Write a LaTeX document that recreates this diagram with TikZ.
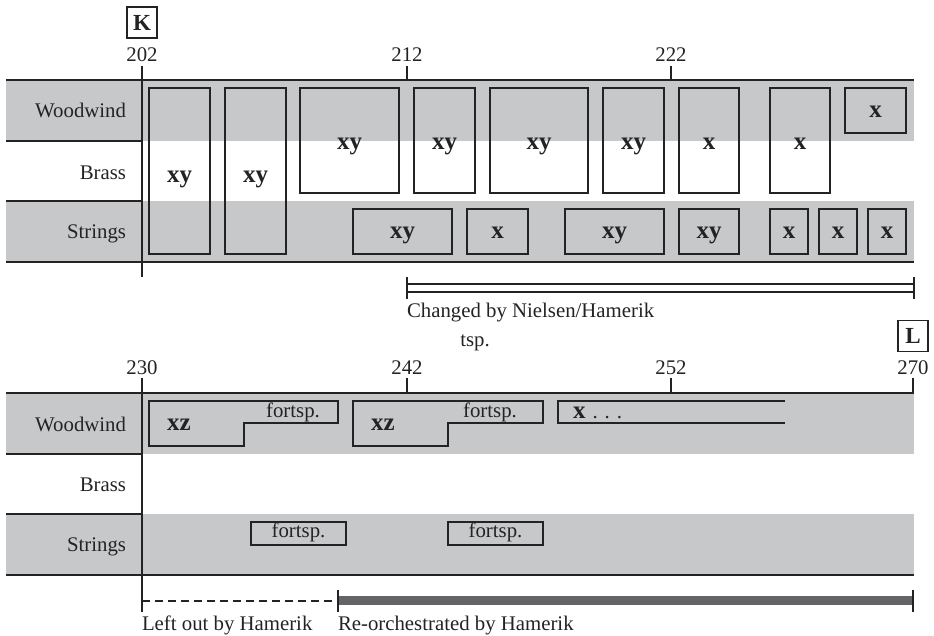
\documentclass[tikz,border=0pt]{standalone}
\usepackage{tikz}
\usepackage{fontspec}
\setmainfont{Liberation Serif}

\definecolor{bandgray}{RGB}{199,200,202}
\definecolor{bargray}{RGB}{100,100,102}
\definecolor{ink}{RGB}{35,35,35}

\begin{document}
\begin{tikzpicture}[x=0.5pt,y=-0.5pt,
  every node/.style={inner sep=0pt, outer sep=0pt, text=ink, font=\fontsize{10.4}{12}\selectfont},
  band/.style={fill=bandgray, draw=none},
  rule/.style={draw=ink, line width=0.7pt},
  part/.style={draw=ink, line width=0.7pt},
  inst/.style={anchor=base east},
  cue/.style={font=\fontsize{12.5}{14}\selectfont\bfseries, anchor=base},
  rehearsal/.style={draw=ink, line width=0.7pt, font=\fontsize{11.5}{13}\selectfont\bfseries, minimum width=15pt, minimum height=15.5pt}]

\useasboundingbox (0,0) rectangle (934,636);

% ---- upper system (202-228) ----
\fill[band] (6,80) rectangle (914,141);
\fill[band] (6,201) rectangle (914,262);
\draw[rule] (6,80) -- (914,80);
\draw[rule] (6,141) -- (142,141);
\draw[rule] (6,201) -- (142,201);
\draw[rule] (6,262) -- (914,262);
\draw[rule] (142,66) -- (142,277);
\draw[rule] (407,66) -- (407,80);
\draw[rule] (671,66) -- (671,80);

\node[rehearsal] (K) at (142,22.5) {K};
\node[anchor=base] (n202) at (142,62) {202};
\node[anchor=base] (n212) at (407,62) {212};
\node[anchor=base] (n222) at (671,62) {222};

\node[inst] (wwA) at (126,118) {Woodwind};
\node[inst] (brA) at (126,180) {Brass};
\node[inst] (stA) at (126,239) {Strings};

\draw[part] (149,88) rectangle (210,254);
\draw[part] (225,88) rectangle (286,254);
\draw[part] (300,88) rectangle (399,193);
\draw[part] (414,88) rectangle (475,193);
\draw[part] (490,88) rectangle (588,193);
\draw[part] (603,88) rectangle (664,193);
\draw[part] (679,88) rectangle (739,193);
\draw[part] (770,88) rectangle (830,193);
\draw[part] (845,88) rectangle (906,133);
\node[cue] (a1) at (179.5,183) {xy};
\node[cue] (a2) at (255.5,183) {xy};
\node[cue] (a3) at (349.5,150) {xy};
\node[cue] (a4) at (444.5,150) {xy};
\node[cue] (a5) at (539,150) {xy};
\node[cue] (a6) at (633.5,150) {xy};
\node[cue] (a7) at (709,150) {x};
\node[cue] (a8) at (800,150) {x};
\node[cue] (a9) at (875.5,118) {x};

\draw[part] (353,209) rectangle (452,254);
\draw[part] (467,209) rectangle (528,254);
\draw[part] (565,209) rectangle (664,254);
\draw[part] (679,209) rectangle (739,254);
\draw[part] (770,209) rectangle (808,254);
\draw[part] (819,209) rectangle (857,254);
\draw[part] (868,209) rectangle (906,254);
\node[cue] (s1) at (402.5,239) {xy};
\node[cue] (s2) at (497.5,239) {x};
\node[cue] (s3) at (614.5,239) {xy};
\node[cue] (s4) at (709,239) {xy};
\node[cue] (s5) at (789,239) {x};
\node[cue] (s6) at (838,239) {x};
\node[cue] (s7) at (887,239) {x};

% changed span
\coordinate (chA) at (407,288);
\coordinate (chB) at (914,288);
\draw[rule] ([yshift=-2pt]chA) -- ([yshift=-2pt]chB);
\draw[rule] ([yshift=2pt]chA) -- ([yshift=2pt]chB);
\draw[rule] ([yshift=-5.5pt]chA) -- ([yshift=5.5pt]chA);
\draw[rule] ([yshift=-5.5pt]chB) -- ([yshift=5.5pt]chB);
\node[anchor=base west] (changed) at (407,318) {Changed by Nielsen/Hamerik};
\node[anchor=base] (tsp) at (475,347) {tsp.};

% ---- lower system (230-270) ----
\fill[band] (6,393) rectangle (914,454);
\fill[band] (6,514) rectangle (914,575);
\draw[rule] (6,393) -- (914,393);
\draw[rule] (6,454) -- (142,454);
\draw[rule] (6,514) -- (142,514);
\draw[rule] (6,575) -- (914,575);
\draw[rule] (142,378) -- (142,612);
\draw[rule] (407,378) -- (407,393);
\draw[rule] (671,378) -- (671,393);
\draw[rule] (913,378) -- (913,393);

\node[rehearsal] (L) at (913,336) {L};
\node[anchor=base] (n230) at (142,375) {230};
\node[anchor=base] (n242) at (407,375) {242};
\node[anchor=base] (n252) at (671,375) {252};
\node[anchor=base] (n270) at (913,375) {270};

\node[inst] (wwB) at (126,432) {Woodwind};
\node[inst] (brB) at (126,492) {Brass};
\node[inst] (stB) at (126,552) {Strings};

\draw[part] (149,401) -- (338,401) -- (338,423) -- (244,423) -- (244,446) -- (149,446) -- cycle;
\draw[part] (353,401) -- (543,401) -- (543,423) -- (448,423) -- (448,446) -- (353,446) -- cycle;
\draw[part] (785,401) -- (558,401) -- (558,423) -- (785,423);
\node[cue] (b1) at (179,431) {xz};
\node[anchor=base] (f1) at (293,418) {fortsp.};
\node[cue] (b2) at (383,431) {xz};
\node[anchor=base] (f2) at (490,418) {fortsp.};
\node[anchor=base west] (b3) at (573,419) {\textbf{\fontsize{12.5}{14}\selectfont x}\hspace{3.5pt}.\hspace{3.5pt}.\hspace{3.5pt}.};

\draw[part] (251,522) rectangle (346,545);
\draw[part] (448,522) rectangle (543,545);
\node[anchor=base] (f3) at (298.5,538) {fortsp.};
\node[anchor=base] (f4) at (495.5,538) {fortsp.};

% left out / re-orchestrated
\coordinate (lo) at (142,601);
\coordinate (ro) at (338,601);
\coordinate (re) at (913,601);
\draw[draw=ink, line width=0.6pt, dash pattern=on 4pt off 2.5pt] (lo) -- (ro);
\draw[draw=bargray, line width=4.5pt] (ro) -- (re);
\draw[rule] ([yshift=-5.5pt]ro) -- ([yshift=5.5pt]ro);
\draw[rule] ([yshift=-5.5pt]re) -- ([yshift=5.5pt]re);
\node[anchor=base west] (leftout) at (142,631) {Left out by Hamerik};
\node[anchor=base west] (reorch) at (338,631) {Re-orchestrated by Hamerik};
\end{tikzpicture}
\end{document}
